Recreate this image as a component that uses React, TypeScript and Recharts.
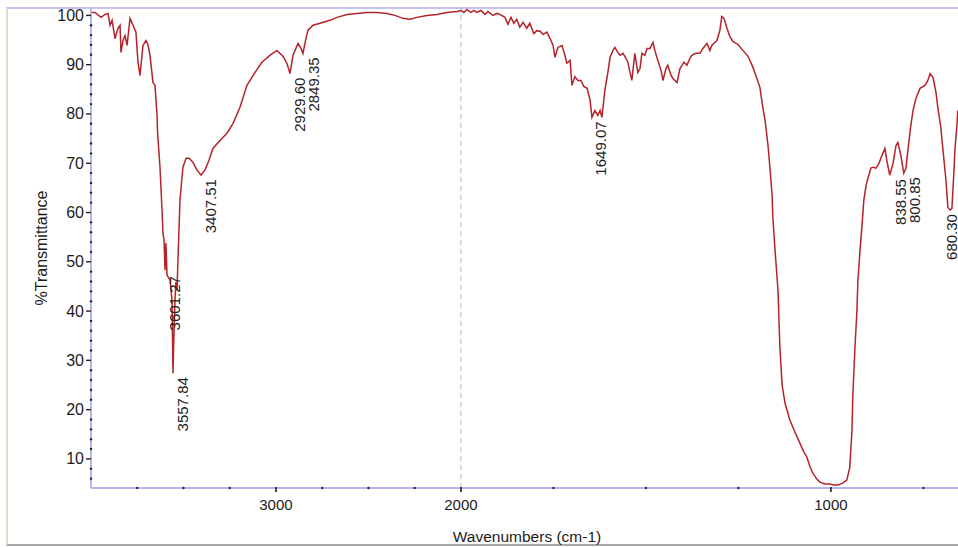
import { LineChart, Line, XAxis, YAxis, ReferenceLine, ReferenceDot, Label } from "recharts"

// FTIR spectrum (wavenumber in cm-1, %T)
const WAVENUMBERS = [
  3995, 3978, 3946, 3924, 3908, 3897, 3886, 3870, 3854, 3843, 3838, 3827, 3816, 3805, 3789, 3773, 3757,
  3746, 3735, 3719, 3703, 3692, 3681, 3665, 3654, 3643, 3640, 3627, 3616, 3611, 3605, 3600, 3595, 3589,
  3573, 3562, 3557, 3551, 3546, 3541, 3535, 3530, 3519, 3503, 3486, 3470, 3449, 3427, 3405, 3384, 3362,
  3341, 3303, 3265, 3232, 3195, 3157, 3114, 3076, 3033, 2995, 2962, 2941, 2924, 2908, 2881, 2865, 2854,
  2838, 2827, 2800, 2762, 2708, 2670, 2616, 2562, 2508, 2454, 2400, 2357, 2314, 2276, 2238, 2184, 2130,
  2076, 2022, 2000, 1992, 1984, 1973, 1965, 1957, 1946, 1935, 1927, 1914, 1903, 1895, 1881, 1873, 1865,
  1857, 1849, 1841, 1832, 1822, 1814, 1803, 1795, 1786, 1778, 1768, 1759, 1751, 1746, 1738, 1727, 1719,
  1714, 1705, 1700, 1692, 1684, 1676, 1668, 1659, 1651, 1646, 1638, 1630, 1624, 1619, 1611, 1603, 1597,
  1589, 1584, 1576, 1570, 1562, 1554, 1549, 1543, 1538, 1530, 1522, 1516, 1511, 1503, 1497, 1489, 1481,
  1476, 1468, 1459, 1454, 1446, 1441, 1432, 1427, 1416, 1408, 1397, 1389, 1381, 1376, 1365, 1354, 1346,
  1335, 1327, 1322, 1314, 1308, 1300, 1295, 1289, 1281, 1273, 1265, 1251, 1238, 1224, 1211, 1200, 1192,
  1184, 1178, 1170, 1165, 1159, 1157, 1151, 1143, 1138, 1132, 1124, 1111, 1097, 1084, 1073, 1065, 1057,
  1049, 1038, 1030, 1016, 1003, 992, 981, 968, 957, 949, 943, 941, 935, 930, 927, 924, 922, 916, 911, 905,
  900, 892, 886, 878, 870, 862, 854, 849, 841, 832, 824, 819, 811, 803, 797, 792, 784, 778, 770, 759, 746,
  738, 732, 724, 716, 711, 703, 697, 689, 684, 678, 673, 668, 665, 659, 657,
]

const TRANSMITTANCE = [
  100.6, 100.6, 99.6, 100.2, 100.4, 98.0, 99.0, 95.3, 97.4, 98.0, 92.5, 94.9, 95.9, 93.9, 99.4, 98.0, 96.6,
  90.5, 87.8, 93.9, 94.9, 94.1, 91.9, 86.4, 85.8, 79.7, 76.1, 69.2, 60.5, 55.8, 54.4, 48.3, 53.8, 47.3,
  46.3, 42.2, 27.4, 36.1, 42.2, 45.9, 44.2, 50.3, 62.5, 69.2, 71.0, 71.0, 70.2, 68.6, 67.6, 68.6, 70.6,
  73.0, 74.6, 76.1, 78.1, 81.3, 85.8, 88.4, 90.5, 91.9, 92.9, 91.7, 90.3, 88.2, 91.9, 94.3, 93.3, 92.3,
  95.3, 97.0, 98.0, 98.4, 99.0, 99.6, 100.2, 100.4, 100.6, 100.6, 100.4, 100.0, 99.4, 99.2, 99.6, 100.0, 100.2,
  100.6, 100.8, 101.0, 100.6, 101.2, 100.6, 101.0, 100.6, 101.0, 100.2, 100.8, 100.0, 100.4, 100.2, 99.6, 98.2, 99.6,
  98.4, 99.2, 97.6, 98.6, 97.4, 98.4, 96.3, 96.9, 96.8, 96.1, 96.6, 95.3, 93.9, 91.5, 93.5, 93.9, 91.9,
  90.3, 90.9, 85.8, 87.6, 86.8, 86.8, 85.6, 85.2, 82.8, 79.3, 80.7, 79.7, 80.7, 79.3, 84.8, 88.4, 91.5,
  92.9, 93.5, 92.5, 91.9, 92.3, 91.3, 90.5, 88.4, 86.8, 92.3, 88.4, 89.2, 92.3, 91.9, 93.3, 93.3, 94.5,
  92.9, 90.9, 88.8, 86.8, 89.2, 89.9, 87.8, 87.2, 86.4, 89.2, 90.5, 89.9, 91.3, 91.9, 92.3, 92.3, 93.3,
  94.3, 92.9, 93.9, 94.5, 94.9, 97.0, 99.8, 99.4, 97.4, 95.7, 94.7, 94.1, 92.9, 91.7, 89.5, 87.2, 85.4,
  81.3, 78.7, 73.6, 69.2, 63.5, 59.0, 52.3, 44.2, 32.7, 25.0, 21.3, 17.9, 15.4, 13.2, 11.4, 10.4, 8.5,
  7.1, 5.9, 5.3, 4.9, 4.9, 4.7, 4.7, 5.1, 5.7, 8.3, 15.8, 22.5, 32.7, 39.6, 46.3, 49.3, 51.7, 57.4, 62.5, 65.5,
  66.9, 69.0, 69.2, 69.0, 70.0, 71.6, 73.0, 70.6, 67.6, 70.0, 73.6, 74.2, 71.6, 68.0, 69.0, 72.6, 77.7, 80.7, 83.2, 85.2, 85.8,
  86.8, 88.2, 87.4, 84.4, 81.3, 77.3, 72.6, 66.5, 61.1, 60.5, 60.8, 67.6, 72.6, 78.1, 80.7,
]

const PEAK_LABELS = ["3601.27", "3557.84", "3407.51", "2929.60", "2849.35", "1649.07", "838.55", "800.85", "680.30"]
const PEAK_TRANSMITTANCE = [47.9, 27.4, 67.6, 88.2, 92.3, 79.3, 67.6, 68.0, 60.5]

const X_MAJOR = [3000, 2000, 1000]
const X_MINOR = [3750, 3500, 3250, 2750, 2500, 2250, 1750, 1500, 1250, 750]
const Y_MAJOR = [10, 20, 30, 40, 50, 60, 70, 80, 90, 100]
const Y_MINOR = [6, 8, 12, 14, 16, 18, 22, 24, 26, 28, 32, 34, 36, 38, 42, 44, 46, 48, 52, 54, 56, 58,
  62, 64, 66, 68, 72, 74, 76, 78, 82, 84, 86, 88, 92, 94, 96, 98]

const FONT = "'Liberation Sans', Arial, sans-serif"
const AXIS_COLOR = "#b6b6ee"
const LINE_COLOR = "#b4222a"

// the instrument expands the scale 2x below 2000 cm-1
const toAxis = (wn: number) => (wn >= 2000 ? wn : 2 * wn - 2000)
const fromAxis = (u: number) => (u >= 2000 ? u : (u + 2000) / 2)

const chartData = WAVENUMBERS.map((wn, i) => ({ pos: toAxis(wn), t: TRANSMITTANCE[i] }))
const xTicks = [...X_MAJOR, ...X_MINOR].map(toAxis).sort((a, b) => a - b)
const yTicks = [...Y_MINOR, ...Y_MAJOR].sort((a, b) => a - b)

function XTick({ x, y, payload }: any) {
  const wn = fromAxis(payload.value)
  if (X_MAJOR.includes(wn)) {
    return (
      <g>
        <line x1={x} x2={x} y1={y - 1} y2={y + 4} stroke="#222" strokeWidth={1.6} />
        <text x={x} y={y + 22} textAnchor="middle" fontSize={15} fontFamily={FONT} fill="#1c1c1c">
          {wn}
        </text>
      </g>
    )
  }
  return <circle cx={x} cy={y} r={1.2} fill="#223" />
}

function YTick({ x, y, payload }: any) {
  const v = payload.value
  if (Y_MAJOR.includes(v)) {
    return (
      <g>
        <line x1={x - 5} x2={x} y1={y} y2={y} stroke="#222" strokeWidth={1.4} />
        <text x={x - 7} y={y + 5.5} textAnchor="end" fontSize={16} fontFamily={FONT} fill="#1c1c1c">
          {v}
        </text>
      </g>
    )
  }
  return <circle cx={x} cy={y} r={1.2} fill="#223" />
}

function PeakLabel({ cx, cy, text }: { cx: number; cy: number; text: string }) {
  // keep the last label inside the picture's right edge
  const x = Math.min(cx + 10, 951)
  return (
    <text
      transform={`translate(${x},${cy + 4}) rotate(-90)`}
      textAnchor="end"
      dominantBaseline="central"
      fontSize={15}
      fontFamily={FONT}
      fill="#222"
    >
      {text}
    </text>
  )
}

export default function App() {
  return (
    <div style={{ position: "relative", width: 958, height: 547, overflow: "hidden", background: "#fff" }}>
      <style>{"body{margin:0}"}</style>
      {/* scan frame */}
      <div
        style={{
          position: "absolute",
          left: 6,
          top: 7,
          width: 980,
          height: 535,
          borderLeft: "2px solid #dddcc8",
          borderTop: "2px solid #c4c4f2",
          borderBottom: "2px solid #a8a8a8",
        }}
      />
      <div style={{ position: "absolute", left: 0, top: 0 }}>
        <LineChart width={958} height={547} data={chartData} margin={{ top: 8, right: 0, bottom: 0, left: 0 }}>
          <XAxis
            type="number"
            dataKey="pos"
            domain={[-687, 4000]}
            reversed
            allowDataOverflow
            ticks={xTicks}
            interval={0}
            tick={<XTick />}
            tickLine={false}
            tickSize={0}
            tickMargin={0}
            height={59}
            axisLine={{ stroke: AXIS_COLOR, strokeWidth: 2 }}
          >
            <Label
              content={() => (
                <text x={527} y={542} textAnchor="middle" fontSize={15.5} fontFamily={FONT} fill="#1c1c1c">
                  Wavenumbers (cm-1)
                </text>
              )}
            />
          </XAxis>
          <YAxis
            type="number"
            domain={[4.1, 101.5]}
            allowDataOverflow
            ticks={yTicks}
            interval={0}
            tick={<YTick />}
            tickLine={false}
            tickSize={0}
            tickMargin={0}
            width={91}
            axisLine={{ stroke: AXIS_COLOR, strokeWidth: 2 }}
          >
            <Label
              content={() => (
                <text
                  transform="translate(41,248) rotate(-90)"
                  textAnchor="middle"
                  dominantBaseline="central"
                  fontSize={16}
                  fontFamily={FONT}
                  fill="#1c1c1c"
                >
                  %Transmittance
                </text>
              )}
            />
          </YAxis>
          <ReferenceLine x={2000} stroke="#b8b8b8" strokeDasharray="5 4" strokeWidth={1} />
          <Line
            type="linear"
            dataKey="t"
            stroke={LINE_COLOR}
            strokeWidth={1.5}
            dot={false}
            activeDot={false}
            isAnimationActive={false}
          />
          {PEAK_LABELS.map((label, i) => (
            <ReferenceDot
              key={label}
              x={toAxis(Number(label))}
              y={PEAK_TRANSMITTANCE[i]}
              r={0}
              ifOverflow="visible"
              shape={(p: any) => <PeakLabel cx={p.cx} cy={p.cy} text={label} />}
            />
          ))}
        </LineChart>
      </div>
    </div>
  )
}
